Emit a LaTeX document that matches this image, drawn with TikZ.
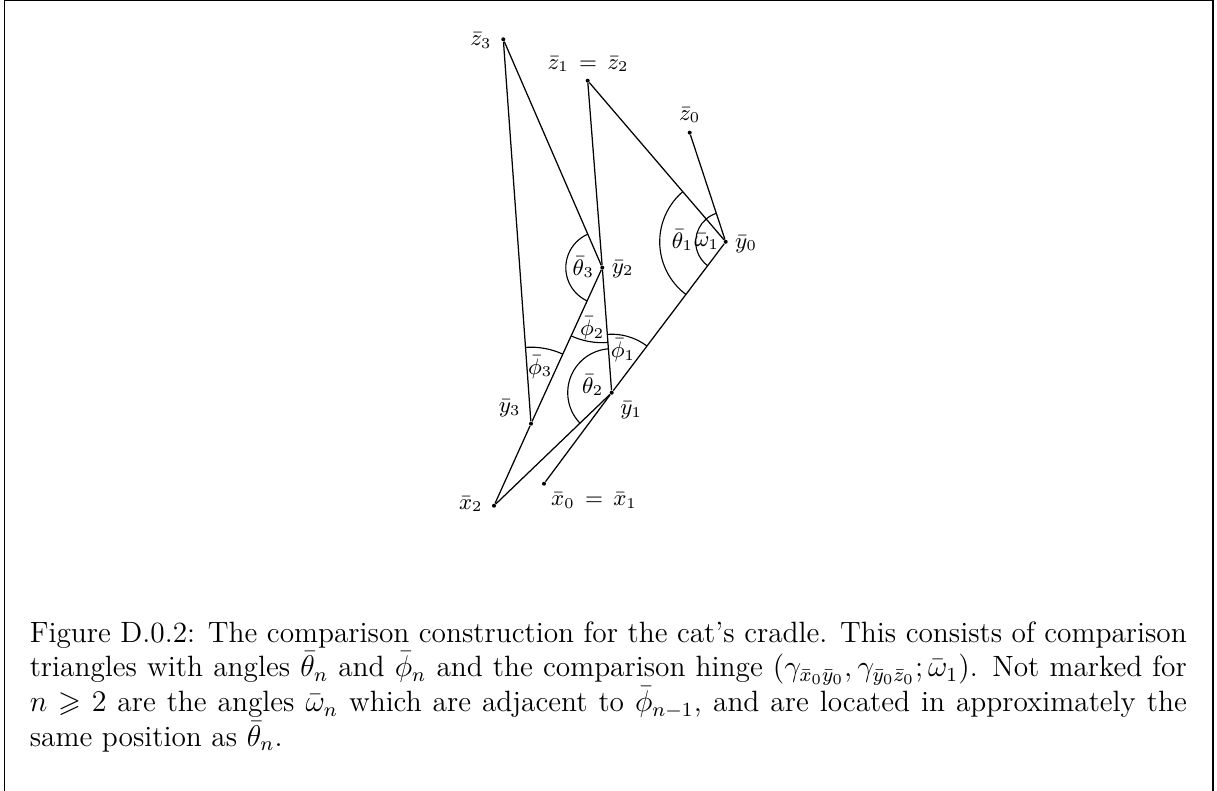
\documentclass[tikz,border=0pt]{standalone}
\usepackage{amssymb}
\usetikzlibrary{angles}
\begin{document}
\begin{tikzpicture}[x=0.4pt,y=0.4pt,
  pt/.style={circle,fill=black,inner sep=0pt,minimum size=1.6pt},
  lab/.style={inner sep=0pt,font=\fontsize{8.6}{10}\selectfont},
  seg/.style={line width=0.5pt},
  ang/.style={draw,line width=0.45pt}]
\useasboundingbox (0,0) rectangle (1217,-791);
% frame
\draw[line width=0.45pt] (4.5,-791) -- (4.5,-0.6) -- (1213,-0.6) -- (1213,-791);
% points
\node[pt] (z3) at (503.3,-39.3) {};
\node[pt] (z1) at (587.7,-80.7) {};
\node[pt] (z0) at (689.7,-132.7) {};
\node[pt] (y0) at (725.7,-241.8) {};
\node[pt] (y2) at (602.3,-267.7) {};
\node[pt] (y1) at (611.7,-392.7) {};
\node[pt] (y3) at (531,-423.7) {};
\node[pt] (x2) at (494,-505.7) {};
\node[pt] (x0) at (544,-483.7) {};
% segments
\draw[seg] (x0) -- (y1) -- (y0);
\draw[seg] (y0) -- (z0);
\draw[seg] (y0) -- (z1);
\draw[seg] (z1) -- (y2) -- (y1);
\draw[seg] (y1) -- (x2);
\draw[seg] (x2) -- (y3) -- (y2);
\draw[seg] (y2) -- (z3);
\draw[seg] (z3) -- (y3);
% angles
\pic[ang,angle radius=26.4pt] {angle=z1--y0--x0};
\pic[ang,angle radius=12pt] {angle=z0--y0--x0};
\pic[ang,angle radius=23.4pt] {angle=y0--y1--z1};
\pic[ang,angle radius=17.6pt] {angle=z1--y1--x2};
\pic[ang,angle radius=30pt] {angle=x2--y2--y1};
\pic[ang,angle radius=14.6pt] {angle=z3--y2--x2};
\pic[ang,angle radius=30.6pt] {angle=y2--y3--z3};
% labels
\node[lab] (lz3) at (481,-40.5) {$\bar z_3$};
\node[lab] (lz1) at (588,-64) {$\bar z_1\,=\,\bar z_2$};
\node[lab] (lz0) at (689.7,-115.3) {$\bar z_0$};
\node[lab] (ly0) at (746,-244) {$\bar y_0$};
\node[lab] (lt1) at (682.5,-240.3) {$\bar\theta_1$};
\node[lab] (lw1) at (706.7,-241.7) {$\bar\omega_1$};
\node[lab] (lt3) at (583.3,-267.3) {$\bar\theta_3$};
\node[lab] (ly2) at (622.7,-269.2) {$\bar y_2$};
\node[lab] (lp2) at (592.3,-328.3) {$\bar\phi_2$};
\node[lab] (lp1) at (623,-350.7) {$\bar\phi_1$};
\node[lab] (lp3) at (540.3,-367) {$\bar\phi_3$};
\node[lab] (lt2) at (592.7,-385) {$\bar\theta_2$};
\node[lab] (ly3) at (509.7,-408.3) {$\bar y_3$};
\node[lab] (ly1) at (631.2,-410.5) {$\bar y_1$};
\node[lab] (lx2) at (470.8,-504) {$\bar x_2$};
\node[lab] (lx0) at (594,-500.7) {$\bar x_0\,=\,\bar x_1$};
% caption
\node[anchor=base west,inner sep=0pt,text width=462.8pt,align=justify,
  font=\fontsize{11.75}{13.9}\selectfont] (cap) at (29.3,-642)
 {Figure D.0.2: The comparison construction for the cat's cradle. This consists of comparison\linebreak
 triangles with angles $\bar\theta_n$ and $\bar\phi_n$ and the comparison hinge
 $(\gamma_{\bar x_0\bar y_0},\gamma_{\bar y_0\bar z_0};\bar\omega_1)$. Not marked for\linebreak
 $n\geqslant 2$ are the angles $\bar\omega_n$ which are adjacent to $\bar\phi_{n-1}$, and are
 located in approximately the\linebreak same position as $\bar\theta_n$.};
\end{tikzpicture}
\end{document}
